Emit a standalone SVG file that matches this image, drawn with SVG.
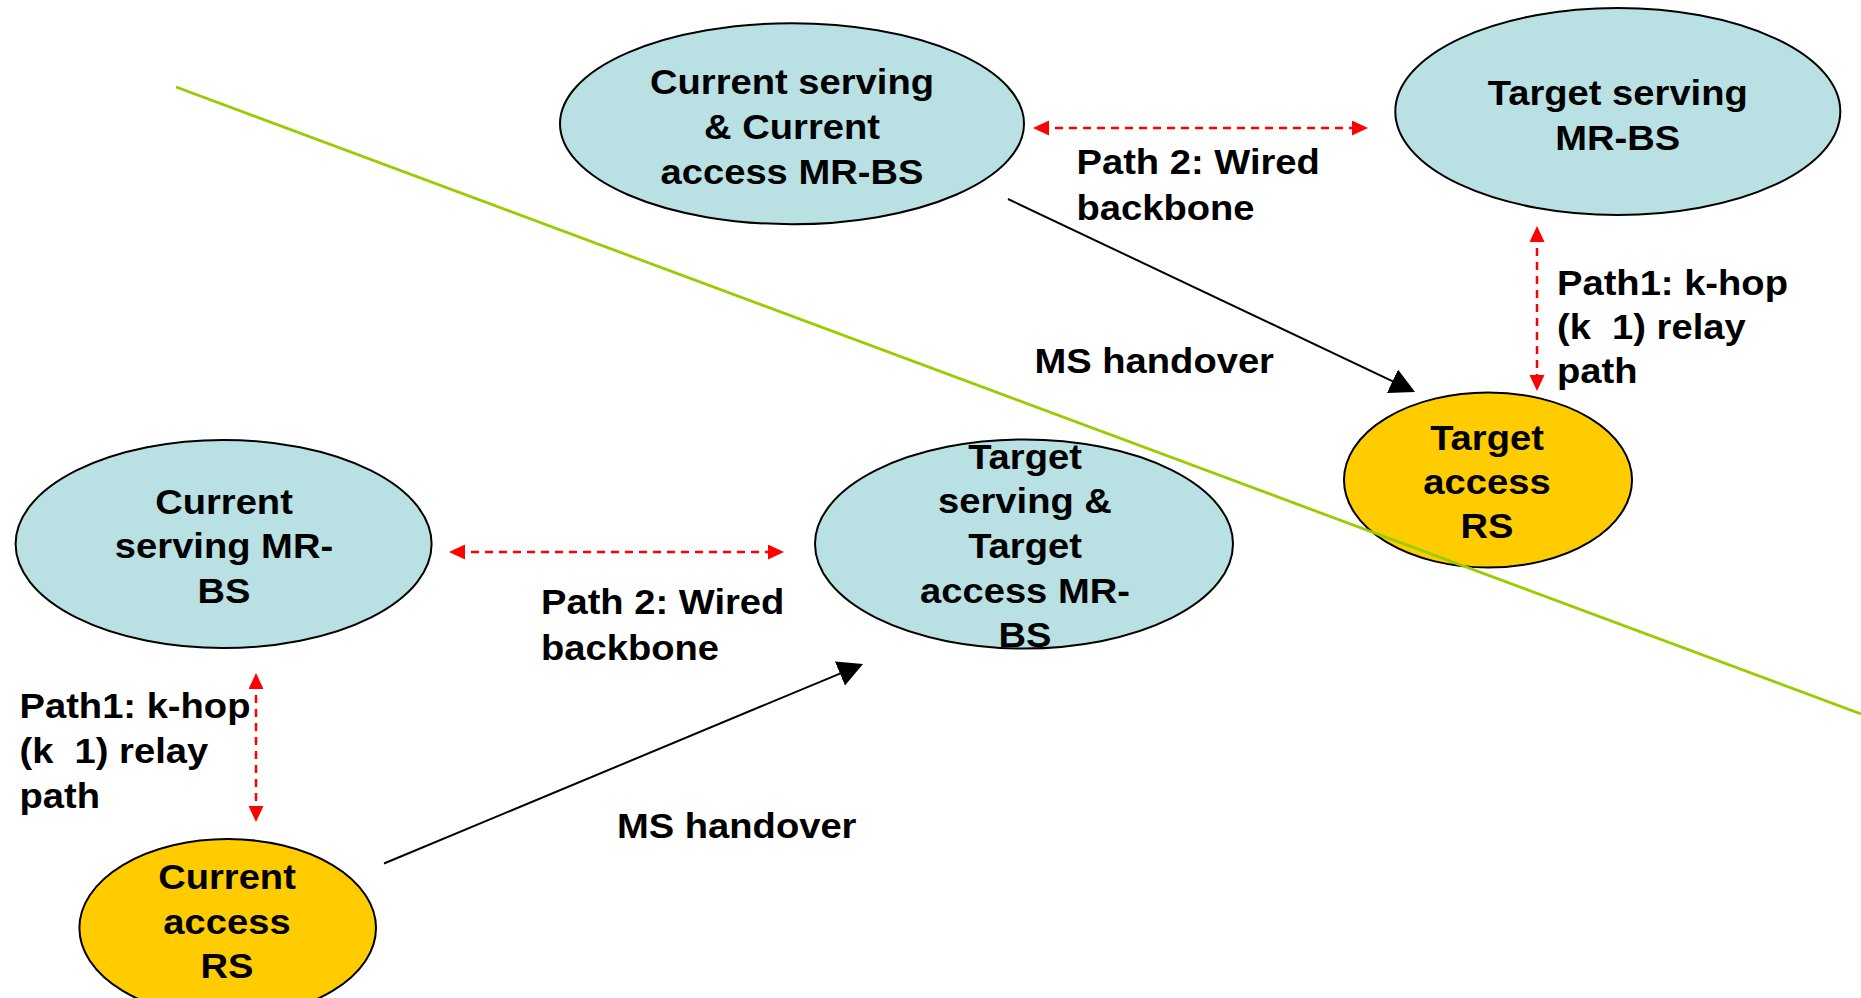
<svg xmlns="http://www.w3.org/2000/svg" width="1861" height="998" viewBox="0 0 1861 998">
<style>
.bs{fill:#b9e0e3;stroke:#000;stroke-width:2}
.rs{fill:#ffcc00;stroke:#000;stroke-width:2}
text{font-family:"Liberation Sans",Arial,Helvetica,sans-serif;font-weight:bold;font-size:35px;fill:#000}
.c{text-anchor:middle}
.red{stroke:#ff0000;stroke-width:2.5;stroke-dasharray:8 6;fill:none}
.blk{stroke:#000;stroke-width:2;fill:none}
</style>
<defs>
<marker id="ra" markerUnits="userSpaceOnUse" markerWidth="17" markerHeight="16" viewBox="0 0 17 16" refX="8" refY="7.5" orient="auto-start-reverse">
<path d="M0,0 L16,7.5 L0,15 Z" fill="#ff0000"/>
</marker>
<marker id="ba" markerUnits="userSpaceOnUse" markerWidth="27" markerHeight="27" viewBox="0 0 27 27" refX="15" refY="13" orient="auto">
<path d="M0,0 L25,13 L0,26 Z" fill="#000"/>
</marker>
</defs>
<rect width="1861" height="998" fill="#fff"/>

<g id="connectors">
<line class="red" x1="1041" y1="128" x2="1360" y2="128" marker-start="url(#ra)" marker-end="url(#ra)"/>
<line class="red" x1="1537" y1="234" x2="1537" y2="383" marker-start="url(#ra)" marker-end="url(#ra)"/>
<line class="red" x1="457" y1="552" x2="776" y2="552" marker-start="url(#ra)" marker-end="url(#ra)"/>
<line class="red" x1="256" y1="681" x2="256" y2="814" marker-start="url(#ra)" marker-end="url(#ra)"/>
<line class="blk" x1="1008" y1="199" x2="1406" y2="387.7" marker-end="url(#ba)"/>
<line class="blk" x1="384" y1="863.5" x2="853.8" y2="667.8" marker-end="url(#ba)"/>
</g>

<g id="node-current-serving-access-mrbs">
<ellipse class="bs" cx="792" cy="123.7" rx="232" ry="100.5"/>
<g transform="translate(792,0) scale(1.09,1)"><text class="c" x="0" y="94">Current serving</text><text class="c" x="0" y="139">&amp; Current</text><text class="c" x="0" y="184">access MR-BS</text></g>
</g>

<g id="node-target-serving-mrbs">
<ellipse class="bs" cx="1617.8" cy="111.5" rx="222.5" ry="103.5"/>
<g transform="translate(1617.8,0) scale(1.09,1)"><text class="c" x="0" y="105.5">Target serving</text><text class="c" x="0" y="150">MR-BS</text></g>
</g>

<g id="node-current-serving-mrbs">
<ellipse class="bs" cx="223.6" cy="544" rx="208" ry="104"/>
<g transform="translate(224,0) scale(1.09,1)"><text class="c" x="0" y="514">Current</text><text class="c" x="0" y="558">serving MR-</text><text class="c" x="0" y="603">BS</text></g>
</g>

<g id="node-target-serving-access-mrbs">
<ellipse class="bs" cx="1024" cy="544" rx="209" ry="104.5"/>
<g transform="translate(1025,0) scale(1.09,1)"><text class="c" x="0" y="469">Target</text><text class="c" x="0" y="513">serving &amp;</text><text class="c" x="0" y="558">Target</text><text class="c" x="0" y="602.7">access MR-</text><text class="c" x="0" y="646.7">BS</text></g>
</g>

<g id="node-target-access-rs">
<ellipse class="rs" cx="1488" cy="480" rx="144" ry="87.5"/>
<g transform="translate(1487,0) scale(1.09,1)"><text class="c" x="0" y="450">Target</text><text class="c" x="0" y="494">access</text><text class="c" x="0" y="538.5">RS</text></g>
</g>

<g id="node-current-access-rs">
<ellipse class="rs" cx="227.7" cy="928" rx="148.3" ry="89"/>
<g transform="translate(227,0) scale(1.09,1)"><text class="c" x="0" y="889">Current</text><text class="c" x="0" y="934">access</text><text class="c" x="0" y="978">RS</text></g>
</g>

<g id="divider">
<line x1="176" y1="87" x2="1861" y2="714" stroke="#99cc00" stroke-width="2.8"/>
</g>

<g id="labels">
<g transform="translate(1076.5,0) scale(1.09,1)"><text x="0" y="174.5">Path 2: Wired</text><text x="0" y="220">backbone</text></g>
<g transform="translate(541,0) scale(1.09,1)"><text x="0" y="614.5">Path 2: Wired</text><text x="0" y="660">backbone</text></g>
<g transform="translate(1557,0) scale(1.09,1)"><text x="0" y="295">Path1: k-hop</text><text x="0" y="339">(k&#160;&#160;1) relay</text><text x="0" y="383.5">path</text></g>
<g transform="translate(19.5,0) scale(1.09,1)"><text x="0" y="718">Path1: k-hop</text><text x="0" y="763">(k&#160;&#160;1) relay</text><text x="0" y="808">path</text></g>
<g transform="translate(1034.5,0) scale(1.09,1)"><text x="0" y="373.3">MS handover</text></g>
<g transform="translate(617,0) scale(1.09,1)"><text x="0" y="838.5">MS handover</text></g>
</g>
</svg>
